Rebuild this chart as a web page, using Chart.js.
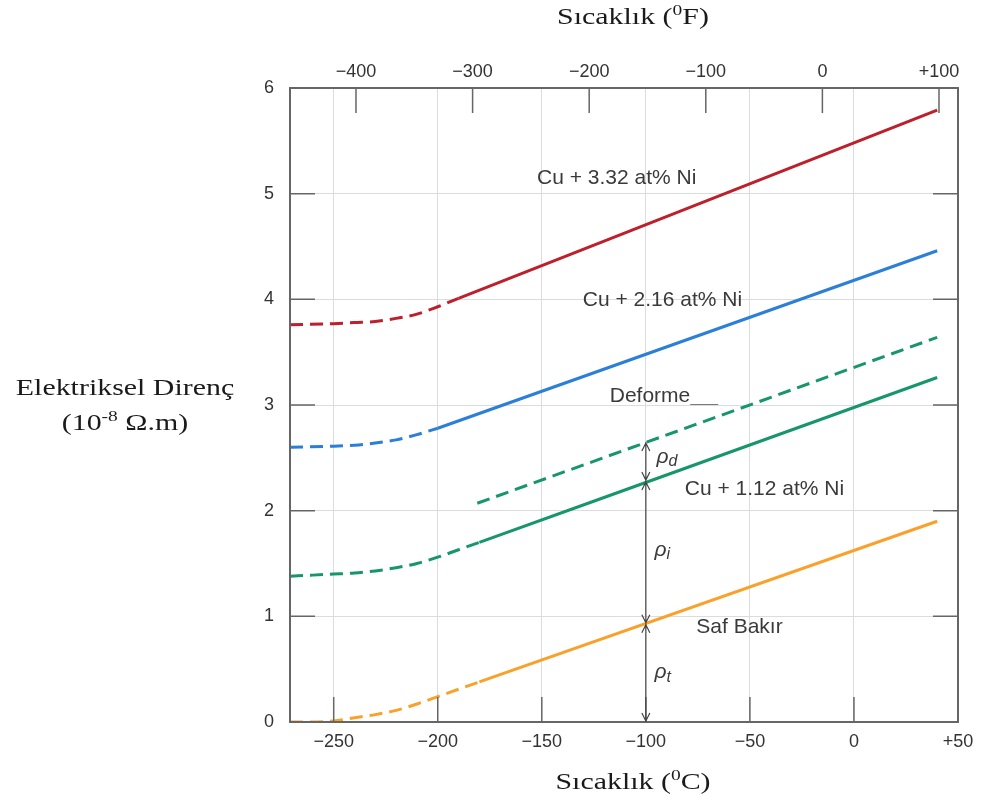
<!DOCTYPE html>
<html>
<head>
<meta charset="utf-8">
<script src="https://cdn.jsdelivr.net/npm/chart.js@4"></script>
<style>
  html, body { margin: 0; padding: 0; background: #fff; }
</style>
</head>
<body>
<canvas id="chart" width="988" height="807"></canvas>
<script>
// tick values
const cTicks = [-250, -200, -150, -100, -50, 0, 50];
const fTicks = [-400, -300, -200, -100, 0, 100];
const yTicks = [0, 1, 2, 3, 4, 5, 6];

// Cu + 3.32 at% Ni
const redDashT = [-271, -250, -240, -230, -220, -210, -200, -190];
const redDashV = [3.76, 3.77, 3.78, 3.79, 3.82, 3.86, 3.93, 4.01];
const redSolidT = [-190, 40];
const redSolidV = [4.01, 5.79];

// Cu + 2.16 at% Ni
const blueDashT = [-271, -250, -240, -230, -220, -210, -200];
const blueDashV = [2.60, 2.61, 2.62, 2.64, 2.67, 2.72, 2.78];
const blueSolidT = [-200, 40];
const blueSolidV = [2.78, 4.46];

// Cu + 1.12 at% Ni
const greenDashT = [-271, -260, -250, -240, -230, -220, -210, -200, -190, -180];
const greenDashV = [1.38, 1.39, 1.40, 1.41, 1.43, 1.46, 1.50, 1.56, 1.63, 1.70];
const greenSolidT = [-180, 40];
const greenSolidV = [1.70, 3.26];

// Cu + 1.12 at% Ni, deforme
const deformT = [-181, 40];
const deformV = [2.07, 3.64];

// saf bakir
const cuDashT = [-271, -260, -250, -240, -230, -220, -210, -200, -190, -180];
const cuDashV = [0.00, 0.00, 0.01, 0.04, 0.07, 0.11, 0.17, 0.24, 0.31, 0.38];
const cuSolidT = [-180, 40];
const cuSolidV = [0.38, 1.90];

// rho oklari (x = -100 C)
const arrowX = -100;
const arrowStops = [0, 0.93, 2.28, 2.65];

const notes = [
    { text: 'Cu + 3.32 at% Ni', x: -114, y: 5.15 },
    { text: 'Cu + 2.16 at% Ni', x: -92, y: 3.99 },
    { text: 'Deforme', x: -98, y: 3.08 },
    { text: 'Cu + 1.12 at% Ni', x: -43, y: 2.20 },
    { text: 'Saf Bakır', x: -55, y: 0.90 }
];
const rhoNotes = [
    { sub: 'd', x: -91, y: 2.51 },
    { sub: 'i', x: -92, y: 1.63 },
    { sub: 't', x: -92, y: 0.47 }
];

const RED = '#bd1f2b', BLUE = '#2b7fd6', GREEN = '#17966b', ORANGE = '#f9a12b';

function tickText(v) {
    if (v > 0) return '+' + v;
    if (v < 0) return '\u2212' + Math.abs(v);
    return '0';
}

function line(t, v, color, dashed) {
    return {
        data: t.map((x, i) => ({ x: x, y: v[i] })),
        borderColor: color,
        borderWidth: 3,
        borderDash: dashed ? [13, 7] : [],
        pointRadius: 0,
        fill: false,
        cubicInterpolationMode: 'monotone'
    };
}

function drawRich(ctx, parts, cx, cy, stretch) {
    let total = 0;
    parts.forEach(p => { ctx.font = p.font; p.w = ctx.measureText(p.t).width; total += p.w; });
    ctx.save();
    ctx.translate(cx, cy);
    ctx.scale(stretch, 1);
    ctx.textAlign = 'left';
    ctx.textBaseline = 'middle';
    let x = -total / 2;
    parts.forEach(p => {
        ctx.font = p.font;
        ctx.fillText(p.t, x, p.dy || 0);
        x += p.w;
    });
    ctx.restore();
}

const serif = '"Liberation Serif", "Times New Roman", serif';
const sans = '"Liberation Sans", Arial, sans-serif';

const decorPlugin = {
    id: 'decor',
    afterDraw(chart) {
        const ctx = chart.ctx;
        const a = chart.chartArea;
        const xs = chart.scales.x, xf = chart.scales.xF, ys = chart.scales.y;

        ctx.save();
        // ic taraftaki tikler
        ctx.strokeStyle = '#666';
        ctx.lineWidth = 1.5;
        ctx.beginPath();
        yTicks.forEach(v => {
            const py = ys.getPixelForValue(v);
            ctx.moveTo(a.left, py); ctx.lineTo(a.left + 25, py);
            ctx.moveTo(a.right, py); ctx.lineTo(a.right - 25, py);
        });
        cTicks.forEach(v => {
            const px = xs.getPixelForValue(v);
            ctx.moveTo(px, a.bottom); ctx.lineTo(px, a.bottom - 25);
        });
        fTicks.forEach(v => {
            const px = xf.getPixelForValue(v);
            ctx.moveTo(px, a.top); ctx.lineTo(px, a.top + 25);
        });
        ctx.stroke();

        // cerceve
        ctx.strokeStyle = '#666';
        ctx.lineWidth = 2;
        ctx.strokeRect(a.left, a.top, a.right - a.left, a.bottom - a.top);

        // oklar
        const ax = xs.getPixelForValue(arrowX);
        ctx.strokeStyle = '#444';
        ctx.lineWidth = 1.2;
        for (let i = 0; i < arrowStops.length - 1; i++) {
            const y0 = ys.getPixelForValue(arrowStops[i]);
            const y1 = ys.getPixelForValue(arrowStops[i + 1]);
            ctx.beginPath();
            ctx.moveTo(ax, y0); ctx.lineTo(ax, y1);
            ctx.moveTo(ax - 4, y1 + 9); ctx.lineTo(ax, y1 + 1); ctx.lineTo(ax + 4, y1 + 9);
            ctx.moveTo(ax - 4, y0 - 9); ctx.lineTo(ax, y0 - 1); ctx.lineTo(ax + 4, y0 - 9);
            ctx.stroke();
        }

        // egri etiketleri
        ctx.fillStyle = '#3a3a3a';
        ctx.font = '21px ' + sans;
        ctx.textAlign = 'center';
        ctx.textBaseline = 'middle';
        notes.forEach(n => {
            const px = xs.getPixelForValue(n.x), py = ys.getPixelForValue(n.y);
            ctx.fillText(n.text, px, py);
            if (n.text === 'Deforme') {
                const w = ctx.measureText(n.text).width;
                ctx.beginPath();
                ctx.strokeStyle = '#777';
                ctx.lineWidth = 1;
                ctx.moveTo(px + w / 2, py + 8); ctx.lineTo(px + w / 2 + 28, py + 8);
                ctx.stroke();
            }
        });

        // rho etiketleri
        rhoNotes.forEach(r => {
            const px = xs.getPixelForValue(r.x), py = ys.getPixelForValue(r.y);
            ctx.textAlign = 'left';
            ctx.font = 'italic 21px ' + sans;
            ctx.fillText('\u03c1', px - 8, py);
            ctx.font = 'italic 16px ' + sans;
            ctx.fillText(r.sub, px + 4, py + 5);
        });

        // eksen basliklari
        ctx.fillStyle = '#1a1a1a';
        const big = '23px ' + serif, small = '15px ' + serif;
        drawRich(ctx, [{ t: 'Sıcaklık (', font: big }, { t: '0', font: small, dy: -7 }, { t: 'F)', font: big }],
            (a.left + a.right) / 2 + 9, 18, 1.3);
        drawRich(ctx, [{ t: 'Sıcaklık (', font: big }, { t: '0', font: small, dy: -7 }, { t: 'C)', font: big }],
            (a.left + a.right) / 2 + 9, 783, 1.3);
        drawRich(ctx, [{ t: 'Elektriksel Direnç', font: big }], 125, 389, 1.3);
        drawRich(ctx, [{ t: '(10', font: big }, { t: '-8', font: small, dy: -7 }, { t: ' Ω.m)', font: big }],
            125, 424, 1.3);
        ctx.restore();
    }
};

const tickFont = { family: sans, size: 18 };

new Chart(document.getElementById('chart').getContext('2d'), {
    type: 'line',
    data: {
        datasets: [
            line(redDashT, redDashV, RED, true),
            line(redSolidT, redSolidV, RED, false),
            line(blueDashT, blueDashV, BLUE, true),
            line(blueSolidT, blueSolidV, BLUE, false),
            line(greenDashT, greenDashV, GREEN, true),
            line(greenSolidT, greenSolidV, GREEN, false),
            line(deformT, deformV, GREEN, true),
            line(cuDashT, cuDashV, ORANGE, true),
            line(cuSolidT, cuSolidV, ORANGE, false)
        ]
    },
    options: {
        responsive: false,
        animation: false,
        layout: { padding: { right: 30 } },
        plugins: { legend: { display: false }, tooltip: { enabled: false } },
        scales: {
            x: {
                type: 'linear',
                position: 'bottom',
                min: -271,
                max: 50,
                afterBuildTicks: s => { s.ticks = cTicks.map(v => ({ value: v })); },
                afterFit: s => { s.height = 85; },
                ticks: { callback: tickText, font: tickFont, color: '#333', padding: 9, maxRotation: 0, autoSkip: false },
                grid: { color: '#dcdcdc', drawTicks: false },
                border: { display: false }
            },
            xF: {
                type: 'linear',
                position: 'top',
                display: true,
                min: -456.6,
                max: 116.3,
                afterBuildTicks: s => { s.ticks = fTicks.map(v => ({ value: v })); },
                afterFit: s => { s.height = 88; },
                ticks: { callback: tickText, font: tickFont, color: '#333', padding: 5, maxRotation: 0, autoSkip: false },
                grid: { display: false, drawTicks: false },
                border: { display: false }
            },
            y: {
                min: 0,
                max: 6,
                afterBuildTicks: s => { s.ticks = yTicks.map(v => ({ value: v })); },
                afterFit: s => { s.width = 290; },
                ticks: { font: tickFont, color: '#333', padding: 16 },
                grid: { color: '#dcdcdc', drawTicks: false },
                border: { display: false }
            }
        }
    },
    plugins: [decorPlugin]
});
</script>
</body>
</html>
